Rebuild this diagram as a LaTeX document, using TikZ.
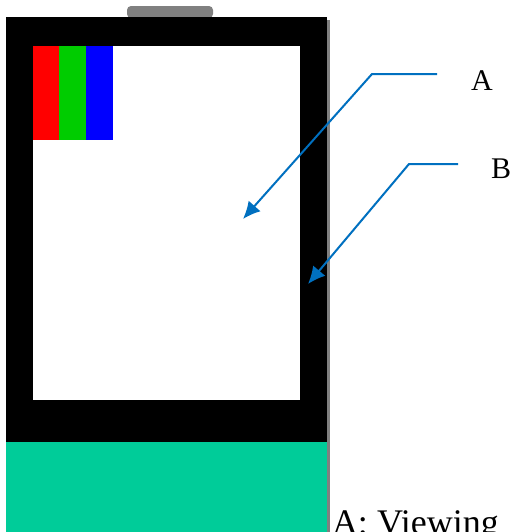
\documentclass[tikz,border=0pt]{standalone}
\usepackage{fontspec}
\setmainfont{Liberation Serif}
\usetikzlibrary{arrows.meta}
\definecolor{leader}{HTML}{0070C0}
\definecolor{basegreen}{HTML}{00CC99}
\definecolor{edgegrey}{HTML}{808080}
\definecolor{subred}{HTML}{FF0000}
\definecolor{subgreen}{HTML}{00CC00}
\definecolor{subblue}{HTML}{0000FF}
\tikzset{
  solidpart/.style={inner sep=0pt,outer sep=0pt},
  callout/.style={draw=leader,line width=1.5pt,line join=miter,-{Latex[length=13pt,width=12pt]}},
  lab/.style={inner sep=0pt,outer sep=0pt,anchor=base west,font=\fontsize{22.5pt}{26pt}\selectfont},
}
\begin{document}
\begin{tikzpicture}[x=0.75pt,y=-0.75pt]
\useasboundingbox (0,0) rectangle (512,532);
\fill[white] (0,0) rectangle (512,532);
% top button
\fill[edgegrey,rounded corners=3pt] (127,18) -- (127,6) -- (213,6) -- (213,18) -- cycle;
% right edge shadow
\fill[edgegrey] (327,20) rectangle (330,532);
% body
\fill[black] (6,17) rectangle (327,442);
\fill[basegreen] (6,442) rectangle (327,532);
\fill[white] (33,46) rectangle (300,400);
% sub-pixels
\fill[subred] (33,46) rectangle (59,140);
\fill[subgreen] (59,46) rectangle (86,140);
\fill[subblue] (86,46) rectangle (113,140);
% labels
\node[lab] (labA) at (471,90) {A};
\node[lab] (labB) at (491,178) {B};
\node[lab,font=\fontsize{27pt}{32pt}\selectfont] (caption) at (332,534) {A: Viewing};
% callouts
\coordinate (startA) at (437,74);
\coordinate (kneeA) at (372,74);
\coordinate (tipA) at (243,219);
\coordinate (startB) at (458,164);
\coordinate (kneeB) at (409,164);
\coordinate (tipB) at (308,284);
\draw[callout] (startA) -- (kneeA) -- (tipA);
\draw[callout] (startB) -- (kneeB) -- (tipB);
\end{tikzpicture}
\end{document}
